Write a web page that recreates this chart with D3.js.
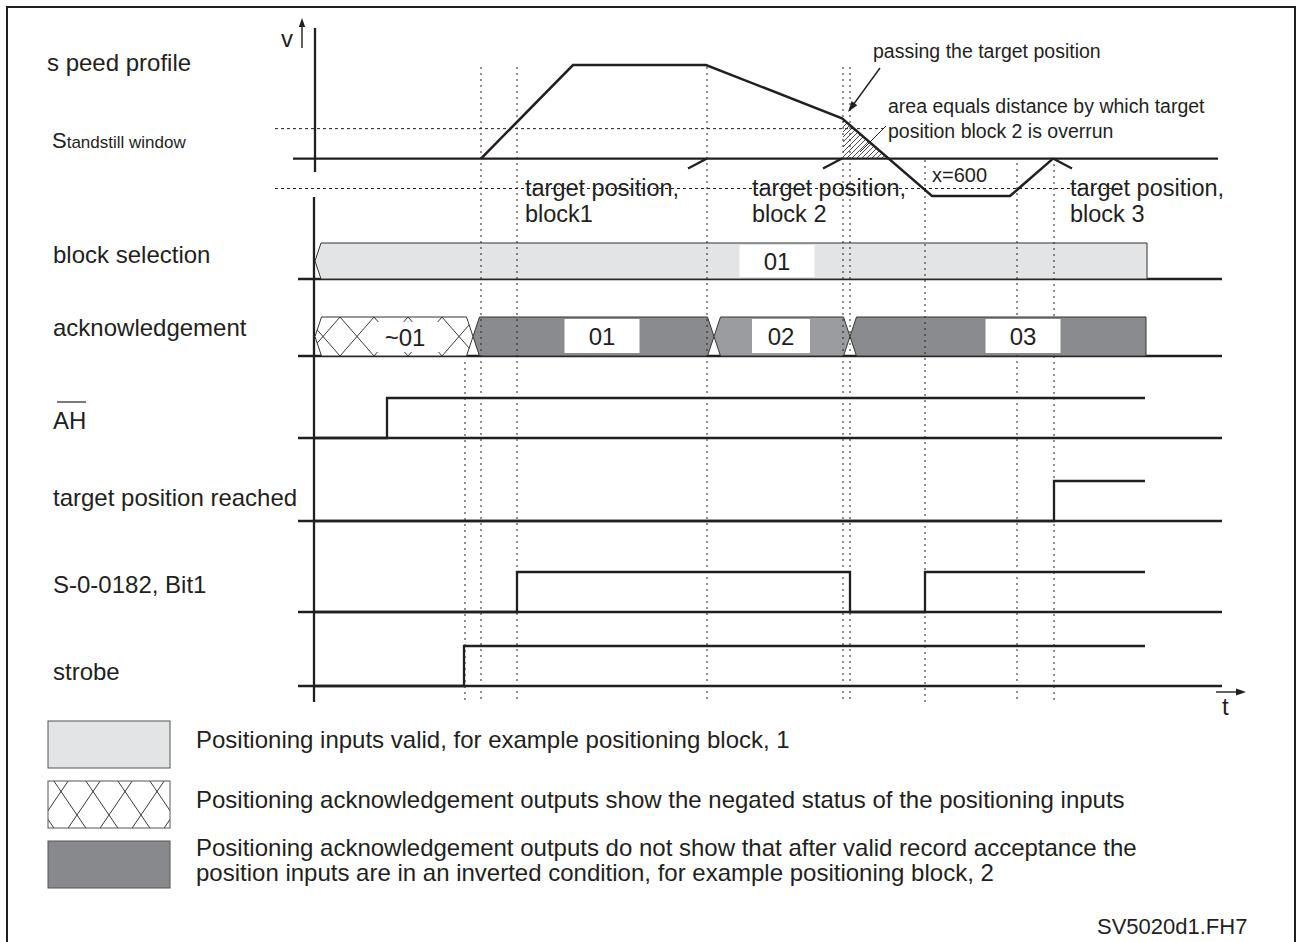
<!DOCTYPE html>
<html><head><meta charset="utf-8">
<script src="https://cdn.jsdelivr.net/npm/d3@7"></script>
<style>
html,body{margin:0;padding:0;background:#fff;}
svg{display:block;font-family:"Liberation Sans",Arial,Helvetica,sans-serif;}
</style></head><body>
<svg id="chart" width="1297" height="942"></svg>
<script>
// ---------- data ----------
const rowLabels = ["block selection", "acknowledgement", "AH", "target position reached", "S-0-0182, Bit1", "strobe"];

// speed profile (time, velocity)
const speedT = [167, 259, 392, 528, 618, 696, 739];
const speedV = [0, 100, 100, 43, -40, -40, 0];
const standstillWindow = 32;

// time instants marked by dotted verticals
const markerTimes = [151, 167, 203, 393, 529, 536, 611, 703, 740];

// target position marks on the speed profile: time, side of the tick
const targetMarkT = [393, 528, 739];
const targetMarkDir = [-1, -1, 1];
const targetLabelT = [211, 438, 756];
const targetLabelBlock = ["block1", "block 2", "block 3"];

// bus rows
const blockSelStart = 1, blockSelEnd = 833, blockSelLabel = "01", blockSelLabelT = 463;
const ackLabels = ["~01", "01", "02", "03"];
const ackBounds = [1, 159, 400, 536, 832];
const ackKinds = ["negated", "dark", "mid", "dark"];
const ackLabelT = [91, 288, 467, 709];

// digital signals: edge times, initial level low
const ahEdges = [73];
const reachedEdges = [740];
const bit1Edges = [203, 536, 611];
const strobeEdges = [150];
const signalEnd = 831;

const legendTexts = [
  ["Positioning inputs valid, for example positioning block, 1"],
  ["Positioning acknowledgement outputs show the negated status of the positioning inputs"],
  ["Positioning acknowledgement outputs do not show that after valid record acceptance the",
   "position inputs are in an inverted condition, for example positioning block, 2"]
];

// ---------- drawing ----------
const INK = "#231f20";
const svg = d3.select("#chart");
const x = d3.scaleLinear().domain([0, 908]).range([314, 1222]);
const v = d3.scaleLinear().domain([-40, 100]).range([196, 65]);

const defs = svg.append("defs");
// single diagonal hatch for the overrun area
const ph = defs.append("pattern").attr("id", "hatch").attr("patternUnits", "userSpaceOnUse")
  .attr("width", 5).attr("height", 5);
ph.append("path").attr("d", "M-1,6 L6,-1 M-1,1 L1,-1 M4,6 L6,4").attr("stroke", INK).attr("stroke-width", 0.8);
// cross hatch for negated bus state
function crossPattern(id, w, h, ox, oy) {
  const p = defs.append("pattern").attr("id", id).attr("patternUnits", "userSpaceOnUse")
    .attr("width", w).attr("height", h).attr("x", ox).attr("y", oy);
  p.append("rect").attr("width", w).attr("height", h).attr("fill", "#fff");
  p.append("path").attr("d", `M0,0 L${w},${h} M${w},0 L0,${h}`).attr("stroke", INK).attr("stroke-width", 0.9);
}
crossPattern("xhatchAck", 34, 39, 306, 317);
crossPattern("xhatchLeg", 32, 47, 45, 721);

// frame
svg.append("path").attr("d", "M7,945 V7 H1295 V945").attr("fill", "none").attr("stroke", INK).attr("stroke-width", 2);

// left labels
const lab = svg.append("g").attr("fill", INK);
lab.append("text").attr("x", 47).attr("y", 71).attr("font-size", 24).text("s peed profile");
const st = lab.append("text").attr("x", 52).attr("y", 148);
st.append("tspan").attr("font-size", 22).text("S");
st.append("tspan").attr("font-size", 17).text("tandstill window");
const rowLabelY = [263, 336, 429, 506, 593, 680];
rowLabels.forEach((t, i) => {
  lab.append("text").attr("x", 53).attr("y", rowLabelY[i]).attr("font-size", 24).text(t);
});
lab.append("line").attr("x1", 57).attr("x2", 86).attr("y1", 402).attr("y2", 402).attr("stroke", INK).attr("stroke-width", 1.2);

// row baselines
const rowBase = [279, 356, 438, 521, 612, 686];
const baseG = svg.append("g").attr("stroke", INK).attr("stroke-width", 2.3);
rowBase.forEach(y => baseG.append("line").attr("x1", 298).attr("x2", x(908)).attr("y1", y).attr("y2", y));

// speed axis + time axis
const ax = svg.append("g").attr("stroke", INK).attr("stroke-width", 2.3);
ax.append("line").attr("x1", x(1)).attr("x2", x(1)).attr("y1", 28).attr("y2", 172);
ax.append("line").attr("x1", 293).attr("x2", 1218).attr("y1", v(0)).attr("y2", v(0));
ax.append("line").attr("x1", x(0)).attr("x2", x(0)).attr("y1", 197).attr("y2", 702);

// arrows
function arrow(x1, y1, x2, y2, len, wid) {
  const a = Math.atan2(y2 - y1, x2 - x1);
  svg.append("line").attr("x1", x1).attr("y1", y1)
    .attr("x2", x2 - Math.cos(a) * len * 0.7).attr("y2", y2 - Math.sin(a) * len * 0.7)
    .attr("stroke", INK).attr("stroke-width", 1.4);
  const bx = x2 - Math.cos(a) * len, by = y2 - Math.sin(a) * len;
  const nx = -Math.sin(a) * wid, ny = Math.cos(a) * wid;
  svg.append("path").attr("d", `M${x2},${y2} L${bx + nx},${by + ny} L${bx - nx},${by - ny} Z`).attr("fill", INK);
}
arrow(302, 48, 302, 18, 9, 3.2);
lab.append("text").attr("x", 281).attr("y", 47).attr("font-size", 24).text("v");
arrow(1216, 692, 1246, 692, 10, 3.5);
lab.append("text").attr("x", 1222).attr("y", 715).attr("font-size", 24).text("t");

// standstill window lines
const dashG = svg.append("g").attr("stroke", INK).attr("stroke-width", 1).attr("stroke-dasharray", "3,3");
dashG.append("line").attr("x1", 275).attr("x2", 883).attr("y1", v(standstillWindow)).attr("y2", v(standstillWindow));
dashG.append("line").attr("x1", 275).attr("x2", 1120).attr("y1", v(-standstillWindow)).attr("y2", v(-standstillWindow));

// bus rows
function busPath(x0, x1, yT, yB, leftPoint, rightPoint, hw) {
  const ym = (yT + yB) / 2;
  let d = leftPoint ? `M${x0},${ym} L${x0 + hw},${yT}` : `M${x0},${yB} L${x0},${yT}`;
  d += rightPoint ? ` L${x1 - hw},${yT} L${x1},${ym} L${x1 - hw},${yB}` : ` L${x1},${yT} L${x1},${yB}`;
  d += leftPoint ? ` L${x0 + hw},${yB} Z` : " Z";
  return d;
}
const busG = svg.append("g");
busG.append("path").attr("d", busPath(x(blockSelStart), x(blockSelEnd), 243, 279, true, false, 6))
  .attr("fill", "#e3e4e6").attr("stroke", "#333").attr("stroke-width", 1);
const kindFill = { negated: "url(#xhatchAck)", dark: "#8a8b8f", mid: "#9b9ca0" };
ackLabels.forEach((l, i) => {
  const last = i === ackLabels.length - 1;
  busG.append("path").attr("d", busPath(x(ackBounds[i]), x(ackBounds[i + 1]), 317, 356, true, !last, 6.5))
    .attr("fill", kindFill[ackKinds[i]]).attr("stroke", "#333").attr("stroke-width", 1);
});

// dotted time markers
const markerTop = [362, 67, 67, 67, 67, 67, 160, 163, 158];
const dotG = svg.append("g").attr("stroke", INK).attr("stroke-width", 1).attr("stroke-dasharray", "2,4");
markerTimes.forEach((t, i) => {
  dotG.append("line").attr("x1", x(t)).attr("x2", x(t)).attr("y1", markerTop[i]).attr("y2", 703);
});

// bus labels
function boxLabel(cx, yT, yB, w, text) {
  svg.append("rect").attr("x", cx - w / 2).attr("y", yT).attr("width", w).attr("height", yB - yT).attr("fill", "#fff");
  svg.append("text").attr("x", cx).attr("y", (yT + yB) / 2 + 8.5).attr("text-anchor", "middle")
    .attr("font-size", 24).attr("fill", INK).text(text);
}
boxLabel(x(blockSelLabelT), 245, 277, 75, blockSelLabel);
const ackBoxW = [68, 75, 58, 75];
ackLabels.forEach((l, i) => boxLabel(x(ackLabelT[i]), i === 0 ? 322 : 319, i === 0 ? 352 : 353, ackBoxW[i], l));

// digital signals
const levelH = 40;
function wave(edges, base) {
  const pts = [[0, 0]];
  let lvl = 0;
  edges.forEach(t => { pts.push([t, lvl]); lvl = 1 - lvl; pts.push([t, lvl]); });
  pts.push([signalEnd, lvl]);
  const line = d3.line().x(d => x(d[0])).y(d => base - d[1] * levelH);
  svg.append("path").attr("d", line(pts)).attr("fill", "none").attr("stroke", INK)
    .attr("stroke-width", 2.3).attr("stroke-linejoin", "miter");
}
wave(ahEdges, rowBase[2]);
wave(reachedEdges, rowBase[3]);
wave(bit1Edges, rowBase[4]);
wave(strobeEdges, rowBase[5]);

// overrun area (below curve, from block-2 target to zero crossing)
const vAt = t => {
  for (let i = 0; i < speedT.length - 1; i++) {
    if (t >= speedT[i] && t <= speedT[i + 1])
      return speedV[i] + (speedV[i + 1] - speedV[i]) * (t - speedT[i]) / (speedT[i + 1] - speedT[i]);
  }
  return 0;
};
const tStart = markerTimes[4];
const tZero = speedT[3] + (speedT[4] - speedT[3]) * speedV[3] / (speedV[3] - speedV[4]);
svg.append("path")
  .attr("d", `M${x(tStart)},${v(0)} L${x(tStart)},${v(vAt(tStart))} L${x(tZero)},${v(0)} Z`)
  .attr("fill", "url(#hatch)");

// speed curve
const speedLine = d3.line().x((d, i) => x(speedT[i])).y((d, i) => v(speedV[i]));
svg.append("path").attr("d", speedLine(speedT)).attr("fill", "none").attr("stroke", INK)
  .attr("stroke-width", 2.5).attr("stroke-linejoin", "miter");

// target position ticks
targetMarkT.forEach((t, i) => {
  const dir = targetMarkDir[i];
  svg.append("line").attr("x1", x(t)).attr("y1", v(0)).attr("x2", x(t) + dir * 19).attr("y2", v(0) + 10)
    .attr("stroke", INK).attr("stroke-width", 2.3);
});
targetLabelT.forEach((t, i) => {
  lab.append("text").attr("x", x(t)).attr("y", 196).attr("font-size", 23.5).text("target position,");
  lab.append("text").attr("x", x(t)).attr("y", 222).attr("font-size", 23.5).text(targetLabelBlock[i]);
});

// annotations
lab.append("text").attr("x", 873).attr("y", 58).attr("font-size", 19.5).text("passing the target position");
arrow(880, 68, 848, 112, 11, 3.5);
lab.append("text").attr("x", 888).attr("y", 113).attr("font-size", 19.5).text("area equals distance by which target");
lab.append("text").attr("x", 888).attr("y", 138).attr("font-size", 19.5).text("position block 2 is overrun");
svg.append("line").attr("x1", 886).attr("y1", 126).attr("x2", 860).attr("y2", 152).attr("stroke", INK).attr("stroke-width", 1);
lab.append("text").attr("x", 932).attr("y", 182).attr("font-size", 20).text("x=600");

// legend
const legFill = ["#e3e4e6", "url(#xhatchLeg)", "#88898d"];
const legY = [721, 781, 841];
legendTexts.forEach((lines, i) => {
  svg.append("rect").attr("x", 48).attr("y", legY[i]).attr("width", 122).attr("height", 47)
    .attr("fill", legFill[i]).attr("stroke", "#555").attr("stroke-width", 1);
  const y0 = lines.length === 1 ? legY[i] + 27 : legY[i] + 15;
  lines.forEach((ln, j) => {
    lab.append("text").attr("x", 196).attr("y", y0 + j * 25).attr("font-size", 24).text(ln);
  });
});

lab.append("text").attr("x", 1097).attr("y", 934).attr("font-size", 22).text("SV5020d1.FH7");
</script>
</body></html>
